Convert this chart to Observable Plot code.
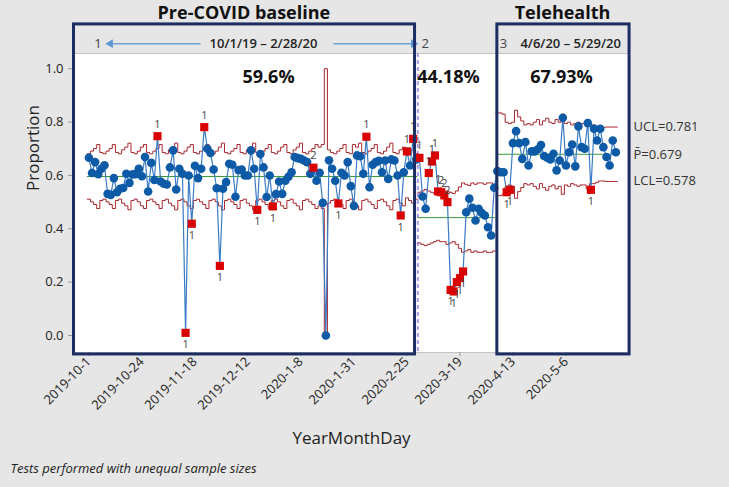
<!DOCTYPE html>
<html><head><meta charset="utf-8">
<script src="https://cdn.jsdelivr.net/npm/d3@7"></script>
<script src="https://cdn.jsdelivr.net/npm/@observablehq/plot@0.6"></script>
<style>
html,body{margin:0;padding:0;background:#e6e6e6;}
#chart{width:729px;height:487px;overflow:hidden;}
</style></head><body><div id="chart"></div>
<script>
// ---- x-axis ticks (observation index -> date label)
const tickIndex = [0,17,34,51,68,85,102,119,136,153];
const tickLabels = ["2019-10-1","2019-10-24","2019-11-18","2019-12-12","2020-1-8","2020-1-31","2020-2-25","2020-3-19","2020-4-13","2020-5-6"];

// ---- stages
const stageNumbers = ["1","2","3"];
const stageStart = [0,106,131];
const stageCenter = [0.596,0.4418,0.6793];
const stagePercent = ["59.6%","44.18%","67.93%"];
const stageRange = ["10/1/19 \u2013 2/28/20","","4/6/20 \u2013 5/29/20"];

// ---- proportions per observation
const stage1P = [0.666,0.609,0.650,0.605,0.625,0.638,0.531,0.527,0.590,0.537,
 0.550,0.553,0.606,0.572,0.604,0.605,0.625,0.597,0.669,0.540,
 0.647,0.583,0.747,0.577,0.569,0.566,0.630,0.694,0.547,0.625,
 0.606,0.010,0.600,0.419,0.636,0.590,0.625,0.781,0.700,0.684,
 0.622,0.552,0.261,0.550,0.575,0.644,0.640,0.520,0.620,0.622,
 0.600,0.600,0.694,0.625,0.471,0.680,0.630,0.519,0.600,0.484,
 0.530,0.577,0.531,0.580,0.595,0.612,0.669,0.665,0.662,0.656,
 0.650,0.606,0.629,0.580,0.610,0.497,0.000,0.657,0.625,0.580,
 0.495,0.610,0.600,0.650,0.560,0.486,0.675,0.672,0.606,0.745,
 0.556,0.640,0.650,0.655,0.612,0.656,0.587,0.660,0.656,0.600,
 0.450,0.612,0.690,0.637,0.737,0.660];
const stage2P = [0.666,0.521,0.475,0.609,0.652,0.675,0.540,0.537,0.525,0.500,
 0.171,0.165,0.200,0.215,0.240,0.462,0.513,0.479,0.431,0.475,
 0.459,0.450,0.406,0.375,0.554];
const stage3P = [0.616,0.612,0.612,0.537,0.546,0.721,0.766,0.721,0.662,0.725,
 0.637,0.690,0.690,0.698,0.714,0.673,0.666,0.660,0.681,0.619,
 0.656,0.816,0.637,0.687,0.716,0.634,0.784,0.706,0.700,0.796,
 0.546,0.775,0.731,0.775,0.706,0.669,0.637,0.731,0.687];

// ---- control-limit half widths read per observation (unequal sample sizes)
const stage1HalfWidth = [0.085,0.095,0.105,0.12,0.09,0.085,0.095,0.105,0.12,0.09,
 0.085,0.10,0.11,0.125,0.09,0.085,0.095,0.11,0.12,0.09,
 0.085,0.095,0.105,0.12,0.09,0.085,0.10,0.11,0.125,0.09,
 0.085,0.095,0.11,0.12,0.09,0.085,0.095,0.105,0.12,0.09,
 0.085,0.095,0.11,0.125,0.09,0.085,0.095,0.105,0.12,0.09,
 0.085,0.10,0.11,0.125,0.09,0.085,0.095,0.105,0.12,0.09,
 0.085,0.095,0.11,0.12,0.09,0.085,0.10,0.11,0.125,0.09,
 0.085,0.095,0.105,0.12,0.11,0.12,0.65,0.10,0.09,0.085,
 0.095,0.105,0.12,0.09,0.085,0.12,0.11,0.125,0.09,0.085,
 0.095,0.105,0.12,0.09,0.085,0.095,0.11,0.125,0.09,0.085,
 0.10,0.11,0.08,0.09,0.10,0.085];
const stage2HalfWidth = [0.095,0.100,0.105,0.100,0.095,0.090,0.085,0.090,0.090,0.100,
 0.095,0.090,0.100,0.115,0.130,0.125,0.120,0.130,0.125,0.130,
 0.130,0.125,0.130,0.130,0.125];
const stage3HalfWidth = [0.155,0.155,0.15,0.12,0.115,0.12,0.165,0.14,0.125,0.11,
 0.115,0.11,0.12,0.13,0.11,0.125,0.135,0.12,0.115,0.13,
 0.12,0.15,0.115,0.12,0.11,0.115,0.12,0.115,0.115,0.13,
 0.11,0.11,0.105,0.10,0.10,0.102,0.102,0.102,0.102];

// ---- out-of-control observations and the failed test number
const redIndex = [22,31,33,37,42,54,59,72,80,89,100,102,104,106,109,110,111,112,113,114,115,116,117,118,119,120,134,135,161];
const redTest = ["1","1","1","1","1","1","1","2","1","1","1","1","1","1","1","1","1","1","2","2","2","1","1","1","1","1","1","1","1"];

// ---- final-stage limit labels
const limitLabels = ["UCL=0.781","P\u0304=0.679","LCL=0.578"];
const limitLabelValues = [0.781,0.679,0.578];

// ---- build tables
const stageP = [stage1P, stage2P, stage3P];
const stageHW = [stage1HalfWidth, stage2HalfWidth, stage3HalfWidth];
const redMap = new Map(redIndex.map((d, j) => [d, redTest[j]]));
const rows = [];
const limitRows = [];
stageP.forEach((arr, s) => arr.forEach((p, k) => {
  const i = stageStart[s] + k;
  const c = stageCenter[s];
  const hw = stageHW[s][k];
  const ucl = Math.min(1, c + hw), lcl = Math.max(0, c - hw);
  rows.push({stage: s, i, p, red: redMap.has(i), test: redMap.get(i) || "", above: p > c});
  limitRows.push({stage: s, x: i - 0.5, ucl, lcl});
  limitRows.push({stage: s, x: i + 0.5, ucl, lcl});
}));
const stageInfo = stageP.map((arr, s) => ({
  c: stageCenter[s], x1: stageStart[s] - 0.5, x2: stageStart[s] + arr.length - 0.5
}));
const limitText = limitLabels.map((t, j) => ({t, y: limitLabelValues[j]}));

const navy = "#1b2d63";
const font = "'Open Sans', 'Noto Sans', sans-serif";

const chart = Plot.plot({
  width: 729, height: 487,
  marginLeft: 72, marginRight: 101, marginTop: 53, marginBottom: 135,
  style: {background: "transparent", fontFamily: font, color: "#222", overflow: "visible"},
  x: {domain: [-5.26, 173.06], axis: null},
  y: {domain: [-0.0637, 1.057], axis: null},
  marks: [
    Plot.frame({fill: "white", stroke: "#c4c4c4"}),
    Plot.ruleX([stageStart[1] - 0.5], {stroke: "#a99cf0", strokeWidth: 2, strokeDasharray: "4,3"}),
    Plot.ruleY(stageInfo, {y: "c", x1: "x1", x2: "x2", stroke: "#3a9b3a", strokeWidth: 1}),
    Plot.line(limitRows, {x: "x", y: "ucl", z: "stage", stroke: "#a8272d", strokeWidth: 1}),
    Plot.line(limitRows, {x: "x", y: "lcl", z: "stage", stroke: "#a8272d", strokeWidth: 1}),
    Plot.line(rows, {x: "i", y: "p", stroke: "#3a7cc6", strokeWidth: 1.2}),
    Plot.dot(rows.filter(d => !d.red), {x: "i", y: "p", r: 4.3, fill: "#0d5aa7"}),
    Plot.dot(rows.filter(d => d.red), {x: "i", y: "p", symbol: "square", r: 4.6, fill: "#d90000"}),
    Plot.text(rows.filter(d => d.red && d.above), {x: "i", y: "p", text: "test", dy: -12, fontSize: 11, fill: "#444"}),
    Plot.text(rows.filter(d => d.red && !d.above), {x: "i", y: "p", text: "test", dy: 12, fontSize: 11, fill: "#444"}),
    // axes
    Plot.axisY([0, 0.2, 0.4, 0.6, 0.8, 1.0], {tickFormat: d => d.toFixed(1), fontSize: 13, tickSize: 4, tickPadding: 5, stroke: "#999", fill: "#222", label: null}),
    Plot.axisX(tickIndex, {tickFormat: d => tickLabels[tickIndex.indexOf(d)], tickRotate: -45, fontSize: 13, tickSize: 4, tickPadding: 3, stroke: "#999", fill: "#222", label: null}),
    Plot.text(["YearMonthDay"], {frameAnchor: "bottom", lineAnchor: "middle", dy: 86, dx: 1, fontSize: 17, fill: "#222"}),
    Plot.text(["Proportion"], {frameAnchor: "left", lineAnchor: "middle", dx: -39, dy: -12, rotate: -90, fontSize: 17, fill: "#222"}),
    Plot.text(["Tests performed with unequal sample sizes"], {frameAnchor: "bottom-left", lineAnchor: "middle", dx: -62, dy: 116, textAnchor: "start", fontSize: 13, fontStyle: "italic", fill: "#222"}),
    // final stage limit labels
    Plot.text(limitText, {y: "y", text: "t", frameAnchor: "right", dx: 5, textAnchor: "start", fontSize: 13, fill: "#333"}),
    // stage strip
    Plot.text([{x: 2.9, t: stageNumbers[0]}, {x: 107.9, t: stageNumbers[1]}, {x: 133.0, t: stageNumbers[2]}],
      {x: "x", text: "t", frameAnchor: "top", lineAnchor: "middle", dy: -10, fontSize: 13, fill: "#444"}),
    Plot.text([{x: 56.0, t: stageRange[0]}, {x: 154.5, t: stageRange[2]}],
      {x: "x", text: "t", frameAnchor: "top", lineAnchor: "middle", dy: -10, fontSize: 13, fontWeight: 600, fill: "#222"}),
    Plot.link([{x1: 35.8, x2: 7.5}, {x1: 78.4, x2: 103.5}], {x1: "x1", x2: "x2", y1: 1.094, y2: 1.094, stroke: "#6fa3d8", strokeWidth: 1.5}),
    Plot.dot([{x: 6.9, r: -90}, {x: 104.1, r: 90}], {x: "x", y: 1.094, symbol: "triangle", rotate: "r", r: 3.2, fill: "#5b95d3"}),
    // percentages
    Plot.text([{x: 57.6, t: stagePercent[0]}, {x: 115.3, t: stagePercent[1]}, {x: 151.6, t: stagePercent[2]}],
      {x: "x", text: "t", frameAnchor: "top", lineAnchor: "middle", dy: 24, fontSize: 18, fontWeight: "bold", fill: "#111"}),
    // annotation boxes and titles
    Plot.rect([{x1: -4.78, x2: 104.6}, {x1: 131.0, x2: 173.4}], {x1: "x1", x2: "x2", y1: -0.071, y2: 1.166, fill: "none", stroke: navy, strokeWidth: 3}),
    Plot.text([{x: 49.7, t: "Pre-COVID baseline"}, {x: 151.9, t: "Telehealth"}],
      {x: "x", text: "t", frameAnchor: "top", lineAnchor: "middle", dy: -40, fontSize: 18, fontWeight: "bold", fill: "#111"})
  ]
});
document.getElementById("chart").appendChild(chart);
</script>
</body></html>
